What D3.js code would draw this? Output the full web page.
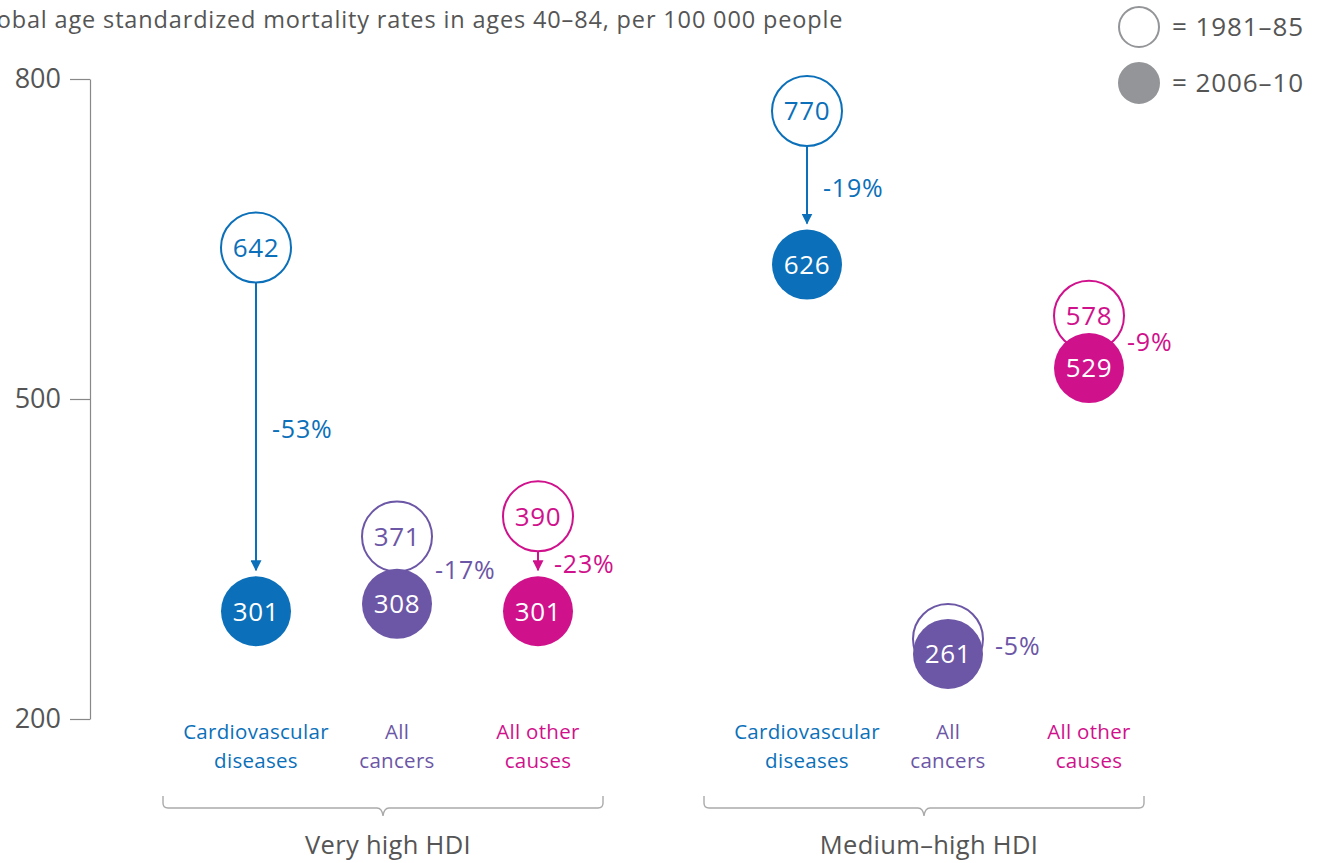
<!DOCTYPE html>
<html>
<head>
<meta charset="utf-8">
<script src="https://cdn.jsdelivr.net/npm/d3@7"></script>
<style>
  body { margin: 0; background: #fff; }
  svg { display: block; font-family: "Open Sans", "Noto Sans", sans-serif; }
</style>
</head>
<body>
<div id="chart"></div>
<script>
// data
const groups = ["Very high HDI", "Medium–high HDI"];
const causes = ["Cardiovascular diseases", "All cancers", "All other causes"];
const causeLines = [["Cardiovascular", "diseases"], ["All", "cancers"], ["All other", "causes"]];
const causeColors = ["#0b70b9", "#6c56a6", "#d0118c"];
const rates1981 = [[642, 371, 390], [770, 275, 578]];
const rates2006 = [[301, 308, 301], [626, 261, 529]];
const changes = [["-53%", "-17%", "-23%"], ["-19%", "-5%", "-9%"]];
const yTicks = [200, 500, 800];
const legendLabels = ["= 1981–85", "= 2006–10"];

const width = 1321;
const height = 863;
const r = 35;
const grey = "#555";

const svg = d3.select("#chart").append("svg")
  .attr("width", width)
  .attr("height", height);

const y = d3.scaleLinear().domain([200, 800]).range([719, 79]);
const xGroup = d3.scalePoint().domain(groups).range([397, 948]);
const xCause = d3.scalePoint().domain(causes).range([-141, 141]);
// the braces sit a little left of the dot groups in the original
const xBrace = d3.scalePoint().domain(groups).range([383, 924]);

// title (cut off at the left edge like the original)
svg.append("text")
  .attr("x", -28)
  .attr("y", 28)
  .attr("fill", grey)
  .attr("font-size", 23.5)
  .attr("letter-spacing", 0.85)
  .text("Global age standardized mortality rates in ages 40–84, per 100 000 people");

// y axis
const yAxis = svg.append("g")
  .attr("transform", "translate(90,0)")
  .call(d3.axisLeft(y).tickValues(yTicks).tickSize(20).tickPadding(9).tickSizeOuter(0));
yAxis.select(".domain").attr("stroke", "#888").attr("stroke-width", 1.2);
yAxis.selectAll(".tick line").attr("stroke", "#888").attr("stroke-width", 1.2);
yAxis.selectAll(".tick text")
  .attr("fill", grey)
  .attr("font-size", 27)
  .attr("font-family", "Open Sans, Noto Sans, sans-serif");

// flatten to one row per dot pair
const rows = [];
groups.forEach((g, gi) => {
  causes.forEach((c, ci) => {
    rows.push({
      group: g, cause: c, ci,
      x: xGroup(g) + xCause(c),
      v0: rates1981[gi][ci],
      v1: rates2006[gi][ci],
      change: changes[gi][ci],
      color: causeColors[ci]
    });
  });
});

const defs = svg.append("defs");
causeColors.forEach((col, i) => {
  defs.append("marker")
    .attr("id", "arrow" + i)
    .attr("viewBox", "0 0 10 10")
    .attr("refX", 10).attr("refY", 5)
    .attr("markerWidth", 11).attr("markerHeight", 11)
    .attr("markerUnits", "userSpaceOnUse")
    .attr("orient", "auto")
    .append("path")
    .attr("d", "M0,0 L10,5 L0,10 Z")
    .attr("fill", col);
});

// arrows where the circles do not touch
rows.filter(d => y(d.v1) - y(d.v0) > 2 * r + 10).forEach(d => {
  svg.append("line")
    .attr("x1", d.x).attr("x2", d.x)
    .attr("y1", y(d.v0) + r)
    .attr("y2", y(d.v1) - r - 6)
    .attr("stroke", d.color)
    .attr("stroke-width", 2);
  svg.append("line")
    .attr("x1", d.x).attr("x2", d.x)
    .attr("y1", y(d.v1) - r - 16)
    .attr("y2", y(d.v1) - r - 5)
    .attr("stroke", "none")
    .attr("marker-end", `url(#arrow${d.ci})`);
});

// 1981-85 open circles
const dots = svg.append("g");
rows.forEach(d => {
  dots.append("circle")
    .attr("cx", d.x).attr("cy", y(d.v0)).attr("r", r)
    .attr("fill", "#fff")
    .attr("stroke", d.color)
    .attr("stroke-width", 2);
  // the label is hidden when the later circle covers it almost fully
  if (y(d.v1) - y(d.v0) > 30) {
    dots.append("text")
      .attr("x", d.x).attr("y", y(d.v0))
      .attr("dy", "0.36em")
      .attr("text-anchor", "middle")
      .attr("fill", d.color)
      .attr("font-size", 26)
      .attr("letter-spacing", 0.6)
      .text(d.v0);
  }
});

// 2006-10 filled circles
rows.forEach(d => {
  dots.append("circle")
    .attr("cx", d.x).attr("cy", y(d.v1)).attr("r", r)
    .attr("fill", d.color);
  dots.append("text")
    .attr("x", d.x).attr("y", y(d.v1))
    .attr("dy", "0.36em")
    .attr("text-anchor", "middle")
    .attr("fill", "#fff")
    .attr("font-size", 26)
    .attr("letter-spacing", 0.6)
    .text(d.v1);
});

// percent change labels
rows.forEach(d => {
  const gap = y(d.v1) - y(d.v0);
  const dx = gap > 2 * r + 10 ? 16 : (gap < 30 ? 47 : 38);
  svg.append("text")
    .attr("x", d.x + dx)
    .attr("y", (y(d.v0) + y(d.v1)) / 2)
    .attr("dy", "0.36em")
    .attr("fill", d.color)
    .attr("font-size", 25)
    .attr("letter-spacing", 0.8)
    .text(d.change);
});

// category labels
rows.forEach(d => {
  const t = svg.append("text")
    .attr("text-anchor", "middle")
    .attr("fill", d.color)
    .attr("font-size", 20.5)
    .attr("letter-spacing", 0.3);
  causeLines[d.ci].forEach((line, i) => {
    t.append("tspan")
      .attr("x", d.x)
      .attr("y", 739 + i * 29)
      .text(line);
  });
});

// braces and group labels
groups.forEach(g => {
  const cx = xBrace(g);
  const half = 220;
  const top = 796, mid = 808, tip = 816, rr = 5;
  const path = d3.path();
  path.moveTo(cx - half, top);
  path.lineTo(cx - half, mid - rr);
  path.quadraticCurveTo(cx - half, mid, cx - half + rr, mid);
  path.lineTo(cx - 6, mid);
  path.quadraticCurveTo(cx - 1, mid, cx, tip);
  path.quadraticCurveTo(cx + 1, mid, cx + 6, mid);
  path.lineTo(cx + half - rr, mid);
  path.quadraticCurveTo(cx + half, mid, cx + half, mid - rr);
  path.lineTo(cx + half, top);
  svg.append("path")
    .attr("d", path.toString())
    .attr("fill", "none")
    .attr("stroke", "#aaa")
    .attr("stroke-width", 1.4);
  svg.append("text")
    .attr("x", cx + 5)
    .attr("y", 854)
    .attr("text-anchor", "middle")
    .attr("fill", grey)
    .attr("font-size", 25.5)
    .attr("letter-spacing", 0.3)
    .text(g);
});

// legend
const legend = svg.append("g").attr("transform", "translate(1139,0)");
legendLabels.forEach((lab, i) => {
  const cy = 27 + i * 56;
  legend.append("circle")
    .attr("cx", 0).attr("cy", cy).attr("r", 20)
    .attr("fill", i === 0 ? "#fff" : "#939598")
    .attr("stroke", "#939598")
    .attr("stroke-width", 2);
  legend.append("text")
    .attr("x", 33).attr("y", cy)
    .attr("dy", "0.36em")
    .attr("fill", grey)
    .attr("font-size", 26)
    .attr("letter-spacing", 0.9)
    .text(lab);
});
</script>
</body>
</html>
